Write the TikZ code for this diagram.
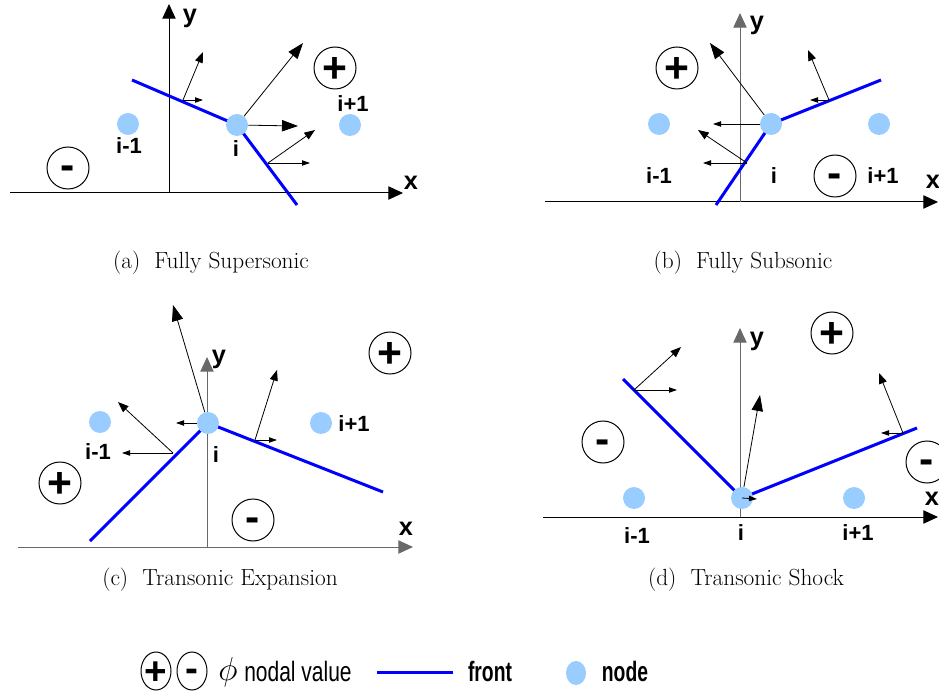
\documentclass[tikz,border=0pt]{standalone}
\usepackage{fontspec}
\newfontfamily\lab{Liberation Sans}
\usetikzlibrary{arrows.meta,shapes.geometric}
\definecolor{frontblue}{RGB}{0,0,255}
\definecolor{nodeblue}{RGB}{153,204,255}
\definecolor{axisgray}{RGB}{105,105,105}
\begin{document}
\begin{tikzpicture}[x=0.75pt,y=-0.75pt,
  axisline/.style={line width=0.75pt,-{Triangle[length=11pt,width=10pt]}},
  frontline/.style={line width=2.25pt,draw=frontblue},
  gridnode/.style={circle,fill=nodeblue,inner sep=0pt,minimum size=16.5pt},
  lbl/.style={font=\lab\bfseries\fontsize{16.5}{18}\selectfont,inner sep=0pt},
  axlbl/.style={font=\lab\bfseries\fontsize{19}{22}\selectfont,inner sep=0pt},
  signbase/.style={circle,draw,line width=0.75pt,inner sep=0pt,minimum size=31.5pt,
    font=\lab\bfseries\fontsize{32}{32}\selectfont,text depth=0pt},
  signplus/.style={signbase,text height=22pt},
  signminus/.style={signbase,text height=16.6pt},
  legbase/.style={ellipse,draw,line width=0.75pt,inner sep=0pt,minimum width=22.5pt,
    minimum height=28.5pt,font=\lab\bfseries\fontsize{29}{29}\selectfont,text depth=0pt},
  legplus/.style={legbase,text height=20pt},
  legminus/.style={legbase,text height=15.1pt},
  vecline/.style={line width=0.6pt},
  bigarr/.style={vecline,-{Triangle[length=12pt,width=8.5pt]}},
  medarr/.style={vecline,-{Triangle[length=8pt,width=6pt]}},
  smallarr/.style={vecline,-{Triangle[length=6pt,width=4pt]}},
  captext/.style={font=\fontsize{17.5}{20}\selectfont,inner sep=0pt},
  legtext/.style={font=\lab\fontsize{21}{23}\selectfont,xscale=0.75,inner sep=0pt},
  legbold/.style={font=\lab\bfseries\fontsize{21}{23}\selectfont,xscale=0.69,inner sep=0pt}
]
\useasboundingbox (0,0) rectangle (939,695);

% ================= (a) Fully Supersonic =================
\coordinate (a-xs) at (10,193);  \coordinate (a-xe) at (403,193);
\coordinate (a-ys) at (169,193); \coordinate (a-ye) at (169,4);
\draw[axisline] (a-xs) -- (a-xe);
\draw[axisline] (a-ys) -- (a-ye);
\node[axlbl] (a-x) at (411,183) {x};
\node[axlbl] (a-y) at (190,18) {y};
\coordinate (a-f1) at (132,80); \coordinate (a-ci) at (237,125); \coordinate (a-f2) at (297,205);
\draw[frontline] (a-f1) -- (a-ci) -- (a-f2);
\node[gridnode] (a-im) at (128,124) {};
\node[gridnode] (a-i) at (a-ci) {};
\node[gridnode] (a-ip) at (350,125) {};
\node[lbl] (a-lim) at (129,146) {i-1};
\node[lbl] (a-li) at (236,149) {i};
\node[lbl] (a-lip) at (353,104) {i+1};
\node[signplus] (a-plus) at (335,68) {\makebox[0pt]{+}};
\node[signminus] (a-minus) at (68,168) {\makebox[0pt]{-}};
\coordinate (a-p1) at (183,100); \coordinate (a-p1n) at (203,52); \coordinate (a-p1h) at (203,100);
\coordinate (a-in) at (303,43); \coordinate (a-ih) at (298,126);
\coordinate (a-p2) at (268,163); \coordinate (a-p2n) at (315,130); \coordinate (a-p2h) at (310,163);
\draw[medarr] (a-p1) -- (a-p1n);
\draw[smallarr] (a-p1) -- (a-p1h);
\draw[bigarr] (a-i) -- (a-in);
\draw[bigarr] (a-i) -- (a-ih);
\draw[medarr] (a-p2) -- (a-p2n);
\draw[smallarr] (a-p2) -- (a-p2h);
\node[captext] (a-cap) at (211,263) {(a)\ \ Fully Supersonic};

% ================= (b) Fully Subsonic =================
\coordinate (b-xs) at (545,202); \coordinate (b-xe) at (938,202);
\coordinate (b-ys) at (740,202); \coordinate (b-ye) at (740,13);
\draw[axisline] (b-xs) -- (b-xe);
\draw[axisline,draw=axisgray] (b-ys) -- (b-ye);
\node[axlbl] (b-x) at (933,182) {x};
\node[axlbl] (b-y) at (757,25) {y};
\coordinate (b-f1) at (716,205); \coordinate (b-ci) at (771,124); \coordinate (b-f2) at (881,80);
\draw[frontline] (b-f1) -- (b-ci) -- (b-f2);
\node[gridnode] (b-im) at (659,124) {};
\node[gridnode] (b-i) at (b-ci) {};
\node[gridnode] (b-ip) at (879,124) {};
\node[lbl] (b-lim) at (659,176) {i-1};
\node[lbl] (b-li) at (774,176) {i};
\node[lbl] (b-lip) at (883,176) {i+1};
\node[signplus] (b-plus) at (677,68) {\makebox[0pt]{+}};
\node[signminus] (b-minus) at (835,176) {\makebox[0pt]{-}};
\coordinate (b-in) at (710,43); \coordinate (b-ih) at (713,124);
\coordinate (b-p1) at (747,163); \coordinate (b-p1n) at (698,130); \coordinate (b-p1h) at (703,163);
\coordinate (b-p2) at (829,100); \coordinate (b-p2n) at (808,50); \coordinate (b-p2h) at (810,100);
\draw[bigarr] (b-i) -- (b-in);
\draw[smallarr] (b-i) -- (b-ih);
\draw[medarr] (b-p1) -- (b-p1n);
\draw[smallarr] (b-p1) -- (b-p1h);
\draw[medarr] (b-p2) -- (b-p2n);
\draw[smallarr] (b-p2) -- (b-p2h);
\node[captext] (b-cap) at (743,263) {(b)\ \ Fully Subsonic};

% ================= (c) Transonic Expansion =================
\coordinate (c-xs) at (18,547);  \coordinate (c-xe) at (413,547);
\coordinate (c-ys) at (207,547); \coordinate (c-ye) at (207,357);
\draw[axisline,draw=axisgray] (c-xs) -- (c-xe);
\draw[axisline,draw=axisgray] (c-ys) -- (c-ye);
\node[axlbl] (c-x) at (406,529) {x};
\node[axlbl] (c-y) at (219,359) {y};
\coordinate (c-f1) at (90,541); \coordinate (c-ci) at (208,423); \coordinate (c-f2) at (383,492);
\draw[frontline] (c-f1) -- (c-ci) -- (c-f2);
\node[gridnode] (c-im) at (100,422) {};
\node[gridnode] (c-i) at (c-ci) {};
\node[gridnode] (c-ip) at (321,423) {};
\node[lbl] (c-lim) at (98,452) {i-1};
\node[lbl] (c-li) at (216,455) {i};
\node[lbl] (c-lip) at (354,424) {i+1};
\node[signplus] (c-plus1) at (390,353) {\makebox[0pt]{+}};
\node[signplus] (c-plus2) at (60,483) {\makebox[0pt]{+}};
\node[signminus] (c-minus) at (253,520) {\makebox[0pt]{-}};
\coordinate (c-in) at (173,305); \coordinate (c-ih) at (176,423);
\coordinate (c-p1) at (173,453); \coordinate (c-p1n) at (118,402); \coordinate (c-p1h) at (122,453);
\coordinate (c-p2) at (255,440); \coordinate (c-p2n) at (277,370); \coordinate (c-p2h) at (277,440);
\draw[bigarr] (c-i) -- (c-in);
\draw[smallarr] (c-i) -- (c-ih);
\draw[medarr] (c-p1) -- (c-p1n);
\draw[smallarr] (c-p1) -- (c-p1h);
\draw[medarr] (c-p2) -- (c-p2n);
\draw[smallarr] (c-p2) -- (c-p2h);
\node[captext] (c-cap) at (220,580) {(c)\ \ Transonic Expansion};

% ================= (d) Transonic Shock =================
\coordinate (d-xs) at (543,517); \coordinate (d-xe) at (938,517);
\coordinate (d-ys) at (740,517); \coordinate (d-ye) at (740,328);
\draw[axisline] (d-xs) -- (d-xe);
\draw[axisline,draw=axisgray] (d-ys) -- (d-ye);
\node[axlbl] (d-x) at (932,499) {x};
\node[axlbl] (d-y) at (757,341) {y};
\coordinate (d-f1) at (623,379); \coordinate (d-ci) at (742,498); \coordinate (d-f2) at (917,428);
\draw[frontline] (d-f1) -- (d-ci) -- (d-f2);
\node[gridnode] (d-im) at (634,498) {};
\node[gridnode] (d-i) at (d-ci) {};
\node[gridnode] (d-ip) at (854,498) {};
\node[lbl] (d-lim) at (637,536) {i-1};
\node[lbl] (d-li) at (741,533) {i};
\node[lbl] (d-lip) at (858,533) {i+1};
\node[signplus] (d-plus) at (832,333) {\makebox[0pt]{+}};
\node[signminus] (d-minus1) at (603,442) {\makebox[0pt]{-}};
\node[signminus] (d-minus2) at (927,462) {\makebox[0pt]{-}};
\coordinate (d-p1) at (634,390); \coordinate (d-p1n) at (681,347); \coordinate (d-p1h) at (677,390);
\coordinate (d-in) at (760,395); \coordinate (d-ih) at (757,499);
\coordinate (d-p2) at (903,433); \coordinate (d-p2n) at (879,373); \coordinate (d-p2h) at (881,433);
\draw[medarr] (d-p1) -- (d-p1n);
\draw[smallarr] (d-p1) -- (d-p1h);
\draw[bigarr] (d-i) -- (d-in);
\draw[smallarr] (d-i.center) -- (d-ih);
\draw[medarr] (d-p2) -- (d-p2n);
\draw[smallarr] (d-p2) -- (d-p2h);
\node[captext] (d-cap) at (746,580) {(d)\ \ Transonic Shock};

% ================= legend =================
\node[legplus] (leg-plus) at (156,671) {\makebox[0pt]{+}};
\node[legminus] (leg-minus) at (192,671) {\makebox[0pt]{-}};
\node[inner sep=0pt] (leg-phi) at (228,672) {\fontsize{24.88}{28}\selectfont$\phi$};
\node[legtext] (leg-nv) at (298,671) {nodal value};
\coordinate (leg-l1) at (377,672); \coordinate (leg-l2) at (453,672);
\draw[frontline] (leg-l1) -- (leg-l2);
\node[legbold] (leg-front) at (490,671) {front};
\node[ellipse,fill=nodeblue,inner sep=0pt,minimum width=15pt,minimum height=18pt] (leg-node) at (576,673) {};
\node[legbold] (leg-nodetxt) at (625,671) {node};
\end{tikzpicture}
\end{document}
